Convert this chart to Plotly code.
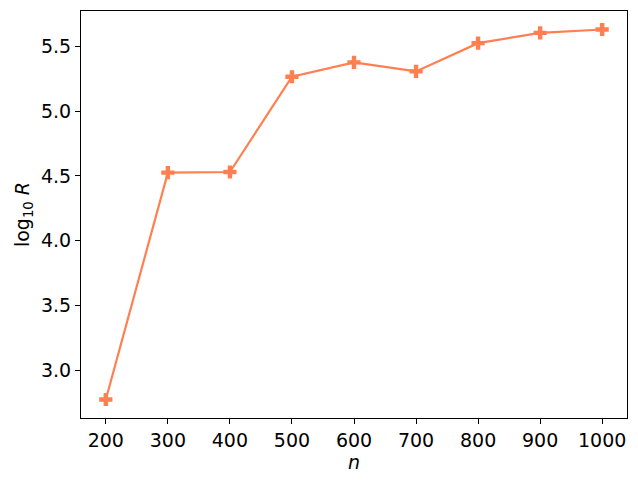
import plotly.graph_objects as go

n_values = [200, 300, 400, 500, 600, 700, 800, 900, 1000]
log_r = [2.777, 4.525, 4.530, 5.264, 5.375, 5.305, 5.523, 5.602, 5.628]

x_ticks = [200, 300, 400, 500, 600, 700, 800, 900, 1000]
y_ticks = [3.0, 3.5, 4.0, 4.5, 5.0, 5.5]


def pad(lo, hi, frac=0.05):
    span = hi - lo
    return [lo - frac * span, hi + frac * span]


fig = go.Figure(go.Scatter(
    x=n_values, y=log_r, mode='lines+markers',
    line=dict(color='#ff7f50', width=2.2),
    marker=dict(symbol='cross', size=11, color='#ff7f50'),
))

axis_style = dict(showline=True, linecolor='black', linewidth=1, mirror=True,
                  ticks='outside', ticklen=5, tickcolor='black', showgrid=False,
                  zeroline=False, automargin=False,
                  tickfont=dict(size=19, color='black'))

fig.update_xaxes(range=pad(min(n_values), max(n_values)), tickvals=x_ticks,
                 title=dict(text='<i>n</i>', font=dict(size=19, color='black'), standoff=4),
                 **axis_style)
fig.update_yaxes(range=pad(min(log_r), max(log_r)), tickvals=y_ticks,
                 ticktext=[f'{v:.1f}' for v in y_ticks],
                 title=dict(text='log<sub>10</sub> <i>R</i>', font=dict(size=19, color='black'), standoff=6),
                 **axis_style)

# page body adds an 8px margin, so the figure is 8px smaller and margins shifted
fig.update_layout(width=630, height=478, showlegend=False,
                  plot_bgcolor='white', paper_bgcolor='white',
                  font=dict(family='DejaVu Sans', color='black'),
                  margin=dict(l=73, r=11, t=3, b=68))

fig.write_html("out.html")
